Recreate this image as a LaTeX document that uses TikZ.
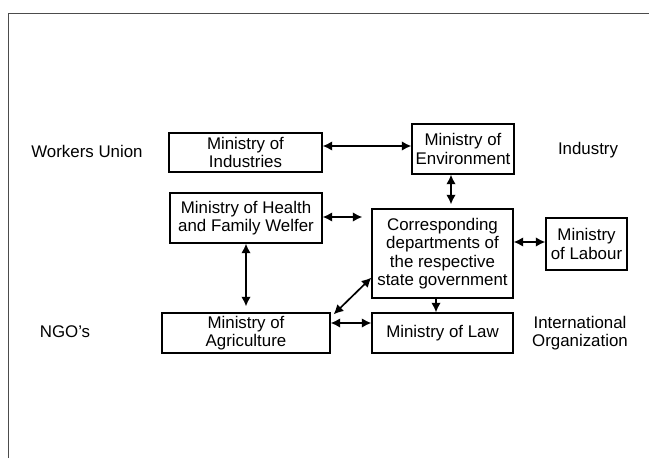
\documentclass[tikz,border=0pt]{standalone}
\usepackage{fontspec}
\setmainfont{Liberation Sans}
\usetikzlibrary{arrows.meta}

\tikzset{
    mbox/.style={draw, line width=0.9pt, align=center, inner sep=0pt},
    side/.style={align=center, inner sep=0pt},
    link/.style={line width=1.2pt, {Latex[length=2.4mm,width=2.4mm]}-{Latex[length=2.4mm,width=2.4mm]}},
    onelink/.style={line width=1.2pt, -{Latex[length=2.4mm,width=2.4mm]}}
}

\begin{document}
\begin{tikzpicture}[font=\fontsize{12}{13}\selectfont]
    \useasboundingbox (0, 0) rectangle (16.225, 11.45);

    % Frame
    \draw[line width=0.7pt, black!70] (0.2, 0) -- (0.2, 11.125) -- (16.225, 11.125);

    % Ministries
    \node[mbox, minimum width=3.825cm, minimum height=0.975cm] (ind) at (6.1375, 7.6375) {Ministry of\\Industries};
    \node[mbox, minimum width=2.55cm, minimum height=1.25cm] (env) at (11.575, 7.725) {Ministry of\\Environment};
    \node[mbox, minimum width=3.8cm, minimum height=1.25cm] (hlth) at (6.15, 6.0) {Ministry of Health\\and Family Welfer};
    \node[mbox, minimum width=3.525cm, minimum height=2.225cm] (corr) at (11.0625, 5.1125)
        {Corresponding\\departments of\\the respective\\state government};
    \node[mbox, minimum width=2.025cm, minimum height=1.3cm] (lab) at (14.6625, 5.35) {Ministry\\of Labour};
    \node[mbox, minimum width=4.2cm, minimum height=1.0cm] (agri) at (6.15, 3.125) {Ministry of\\Agriculture};
    \node[mbox, minimum width=3.525cm, minimum height=1.0cm] (law) at (11.0625, 3.125) {Ministry of Law};

    % Outside groups
    \node[side] (wu) at (2.175, 7.675) {Workers Union};
    \node[side] (indus) at (14.7, 7.7) {Industry};
    \node[side] (ngo) at (1.625, 3.15) {NGO's};
    \node[side] (intl) at (14.5, 3.125) {International\\Organization};

    % Links
    \draw[link] (ind.east |- 0,7.8) -- (env.west |- 0,7.8);
    \draw[link] (env.south -| 11.275,0) -- ([yshift=0.1cm]corr.north -| 11.275,0);
    \draw[link] (hlth.east |- 0,6.025) -- ([xshift=-0.225cm]corr.west |- 0,6.025);
    \draw[link] (hlth.south) -- ([yshift=0.15cm]agri.north);
    \draw[link] (corr.east |- 0,5.4) -- (lab.west |- 0,5.4);
    \draw[onelink] (corr.south -| 10.9,0) -- (law.north -| 10.9,0);
    \draw[link] ([xshift=0.075cm,yshift=-0.05cm]agri.north east) -- ([yshift=0.525cm]corr.south west);
    \draw[link] (agri.east |- 0,3.375) -- (law.west |- 0,3.375);
\end{tikzpicture}
\end{document}
